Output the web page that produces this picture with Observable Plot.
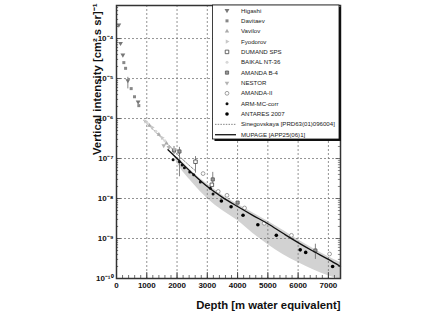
<!DOCTYPE html>
<html><head><meta charset="utf-8">
<script src="https://cdn.jsdelivr.net/npm/d3@7"></script>
<script src="https://cdn.jsdelivr.net/npm/@observablehq/plot@0.6"></script>
<style>html,body{margin:0;padding:0;background:#fff;}</style>
</head><body><div id="chart"></div>
<script>
// ---- data (depth in m.w.e., vertical intensity in cm^-2 s^-1 sr^-1) ----
const higashiDepth = [77, 133, 210, 375, 715];
const higashiFlux  = [2.2e-4, 7.6e-5, 3.9e-5, 8.9e-6, 2.6e-6];
const davitaevDepth = [242, 300, 485, 595, 737];
const davitaevFlux  = [2.5e-5, 1.8e-5, 5.6e-6, 3.5e-6, 2.1e-6];
const vavilovDepth = [1090, 1400, 1650];
const vavilovFlux  = [6.7e-7, 4.0e-7, 2.4e-7];
const fyodorovDepth = [960, 1180, 1510, 1750];
const fyodorovFlux  = [8.5e-7, 6.0e-7, 3.3e-7, 1.9e-7];
const dumandDepth = [2610, 3150];
const dumandFlux  = [8.3e-8, 2.2e-8];
const baikalDepth = [1020, 1300, 1600];
const baikalFlux  = [7.6e-7, 4.8e-7, 2.8e-7];
const amandaB4Depth = [1900, 2080, 3180, 4000, 6570];
const amandaB4Flux  = [1.6e-7, 1.5e-7, 3.0e-8, 7.9e-9, 5.0e-10];
const nestorDepth = [1560, 1730, 1910];
const nestorFlux  = [2.1e-7, 1.9e-7, 1.7e-7];
const amanda2Depth = [2860, 3360, 3650, 4230, 4880, 5780, 7040];
const amanda2Flux  = [4.2e-8, 1.5e-8, 1.2e-8, 5.8e-9, 2.4e-9, 1.2e-9, 4.1e-10];
const armDepth = [1870, 2080, 2170, 2245, 2420, 2550, 2770, 3100, 3190];
const armFlux  = [9.3e-8, 8.3e-8, 6.9e-8, 5.9e-8, 4.6e-8, 3.9e-8, 2.6e-8, 1.8e-8, 1.3e-8];
const antaresDepth = [3465, 3785, 4180, 4670, 5280, 6070, 6250, 7140];
const antaresFlux  = [8.7e-9, 6.2e-9, 3.8e-9, 2.2e-9, 1.2e-9, 5.2e-10, 4.5e-10, 2.0e-10];

const errDepth = [375, 1900, 2080, 2080, 2610, 3180, 6570];
const errHigh  = [1.07e-5, 2.0e-7, 1.9e-7, 1.6e-7, 1.12e-7, 4.5e-8, 7.2e-10];
const errLow   = [5.5e-6, 1.26e-7, 1.2e-7, 3.5e-8, 4.3e-8, 2.2e-8, 3.0e-10];

const sineDepth = [900, 1200, 1500, 1800, 2000, 2300, 2600];
const sineFlux  = [8.9e-7, 5.4e-7, 3.2e-7, 1.9e-7, 1.3e-7, 7.9e-8, 5.0e-8];
const mupageDepth = [1700, 2000, 2500, 3000, 3500, 4000, 4500, 5000, 5500, 6000, 6500, 7000, 7400];
const mupageFlux  = [1.66e-7, 1.0e-7, 4.3e-8, 2.0e-8, 1.07e-8, 6.3e-9, 3.8e-9, 2.34e-9, 1.35e-9, 7.9e-10, 4.8e-10, 3.0e-10, 2.0e-10];
const bandDepth = [1900, 2000, 2500, 3000, 3500, 4000, 4500, 5000, 5500, 6000, 6500, 7000, 7400];
const bandHigh  = [1.2e-7, 1.07e-7, 4.7e-8, 2.3e-8, 1.2e-8, 7.2e-9, 4.4e-9, 2.7e-9, 1.6e-9, 9.3e-10, 5.6e-10, 3.5e-10, 2.5e-10];
const bandLow   = [1.12e-7, 7.9e-8, 2.5e-8, 1.0e-8, 5.0e-9, 2.8e-9, 1.35e-9, 7.1e-10, 4.0e-10, 2.5e-10, 1.66e-10, 1.17e-10, 9.5e-11];

const xTickValues = [0, 1000, 2000, 3000, 4000, 5000, 6000, 7000];
const yTickValues = [1e-10, 1e-9, 1e-8, 1e-7, 1e-6, 1e-5, 1e-4];
const legendNames = ["Higashi", "Davitaev", "Vavilov", "Fyodorov", "DUMAND SPS", "BAIKAL NT-36",
  "AMANDA B-4", "NESTOR", "AMANDA-II", "ARM-MC-corr", "ANTARES 2007",
  "Sinegovskaya [PRD63(01)096004]", "MUPAGE [APP25(06)1]"];

// ---- styles ----
const styles = [
  {sym: "triangle", rot: 180, fill: "#777", stroke: "none", r: 1.8},
  {sym: "square", rot: 0, fill: "#888", stroke: "none", r: 1.7},
  {sym: "triangle", rot: 0, fill: "#aaa", stroke: "none", r: 1.6},
  {sym: "triangle", rot: 90, fill: "#c8c8c8", stroke: "none", r: 1.6},
  {sym: "square", rot: 0, fill: "white", stroke: "#444", r: 2.0},
  {sym: "circle", rot: 0, fill: "#d8d8d8", stroke: "none", r: 1.5},
  {sym: "square", rot: 0, fill: "#999", stroke: "#555", r: 1.8},
  {sym: "triangle", rot: 180, fill: "#b4b4b4", stroke: "none", r: 1.7},
  {sym: "circle", rot: 0, fill: "white", stroke: "#888", r: 1.9},
  {sym: "circle", rot: 0, fill: "#111", stroke: "none", r: 1.5},
  {sym: "circle", rot: 0, fill: "#000", stroke: "none", r: 1.8}
];
const series = [
  [higashiDepth, higashiFlux], [davitaevDepth, davitaevFlux], [vavilovDepth, vavilovFlux],
  [fyodorovDepth, fyodorovFlux], [dumandDepth, dumandFlux], [baikalDepth, baikalFlux],
  [amandaB4Depth, amandaB4Flux], [nestorDepth, nestorFlux], [amanda2Depth, amanda2Flux],
  [armDepth, armFlux], [antaresDepth, antaresFlux]
];

const supMap = {"-": "⁻", "0": "⁰", "1": "¹", "2": "²", "3": "³", "4": "⁴", "5": "⁵", "6": "⁶", "7": "⁷", "8": "⁸", "9": "⁹"};
const fmtPow = d => "10" + String(Math.round(Math.log10(d))).split("").map(c => supMap[c]).join("");

const yMinor = [];
for (let e = -10; e <= -4; e++) for (let m = 2; m <= 9; m++) { const v = m * Math.pow(10, e); if (v < 6.7e-4) yMinor.push(v); }
const xMinor = d3.range(0, 7401, 200);

const band = bandDepth.map((d, i) => ({x: d, lo: bandLow[i], hi: bandHigh[i]}));
const errs = errDepth.map((d, i) => ({x: d, lo: errLow[i], hi: errHigh[i]}));

const XMAX = 7400, YMIN = 1e-10;
const tk = (px) => Math.pow(10, px / 40); // tick length helper on log axis (40px per decade)

const marks = [
  Plot.areaY(band, {x: "x", y1: "lo", y2: "hi", fill: "#d2d2d2", curve: "monotone-x", clip: true}),
  Plot.ruleY(yTickValues.slice(1), {stroke: "#777", strokeDasharray: "2,2", strokeWidth: 0.8}),
  Plot.ruleX(xTickValues.slice(1), {stroke: "#777", strokeDasharray: "2,2", strokeWidth: 0.8}),
  // inward ticks
  Plot.ruleY(yMinor, {x1: 0, x2: 70, stroke: "#333", strokeWidth: 0.7}),
  Plot.ruleY(yTickValues, {x1: 0, x2: 150, stroke: "#333", strokeWidth: 0.8}),
  Plot.ruleY(yMinor, {x1: XMAX - 70, x2: XMAX, stroke: "#555", strokeWidth: 0.7}),
  Plot.ruleY(yTickValues, {x1: XMAX - 150, x2: XMAX, stroke: "#555", strokeWidth: 0.8}),
  Plot.ruleX(xMinor, {y1: YMIN, y2: YMIN * tk(3), stroke: "#333", strokeWidth: 0.7}),
  Plot.ruleX(xTickValues, {y1: YMIN, y2: YMIN * tk(6), stroke: "#333", strokeWidth: 0.8}),
  Plot.line(sineDepth.map((d, i) => ({x: d, y: sineFlux[i]})), {x: "x", y: "y", stroke: "#888", strokeWidth: 1, strokeDasharray: "2,1.5", curve: "monotone-x"}),
  Plot.ruleX(errs, {x: "x", y1: "lo", y2: "hi", stroke: "#666", strokeWidth: 0.8}),
  ...series.map(([xs, ys], k) => Plot.dot(xs.map((d, i) => ({x: d, y: ys[i]})), {
    x: "x", y: "y", symbol: styles[k].sym, rotate: styles[k].rot, r: styles[k].r,
    fill: styles[k].fill, stroke: styles[k].stroke, strokeWidth: 0.8
  })),
  Plot.line(mupageDepth.map((d, i) => ({x: d, y: mupageFlux[i]})), {x: "x", y: "y", stroke: "#111", strokeWidth: 1.3, curve: "monotone-x"}),
  Plot.frame({stroke: "#333", strokeWidth: 1.5}),
  Plot.axisY(yTickValues, {tickSize: 0, tickPadding: 3, tickFormat: fmtPow, fontSize: 8, fontWeight: "bold", label: null}),
  Plot.axisX(xTickValues, {tickSize: 0, tickPadding: 4, tickFormat: d => String(d), fontSize: 8, fontWeight: "bold", label: null}),
  Plot.text(["Depth [m water equivalent]"], {frameAnchor: "bottom-right", textAnchor: "end", dy: 30, fontSize: 11.3, fontWeight: "bold", fill: "#111"}),
  Plot.text(["Vertical intensity [cm² s sr]⁻¹"], {frameAnchor: "top-left", textAnchor: "end", rotate: -90, dx: -24, dy: -2, fontSize: 11.3, fontWeight: "bold", fill: "#111"})
];

const chart = Plot.plot({
  width: 429, height: 322,
  marginLeft: 116, marginRight: 89, marginTop: 5, marginBottom: 44,
  style: {fontFamily: "'Liberation Sans', Arial, sans-serif", background: "#fff", color: "#111"},
  x: {domain: [0, XMAX]},
  y: {type: "log", domain: [YMIN, 6.7e-4]},
  marks
});
document.getElementById("chart").appendChild(chart);

// ---- in-frame legend ----
const svg = d3.select(chart);
const lx = 212.5, ly = 5, lw = 126.5, lh = 134;
const lg = svg.append("g").attr("font-family", "'Liberation Sans', Arial, sans-serif").attr("text-anchor", "start");
lg.append("rect").attr("x", lx + 2).attr("y", ly + 2).attr("width", lw).attr("height", lh).attr("fill", "#111");
lg.append("rect").attr("x", lx).attr("y", ly).attr("width", lw).attr("height", lh).attr("fill", "#fff").attr("stroke", "#111").attr("stroke-width", 0.8);
const symType = {circle: d3.symbolCircle, square: d3.symbolSquare, triangle: d3.symbolTriangle};
legendNames.forEach((name, i) => {
  const y = 10.5 + i * 10.35;
  if (i < styles.length) {
    const s = styles[i];
    lg.append("path")
      .attr("d", d3.symbol(symType[s.sym], Math.PI * s.r * s.r)())
      .attr("transform", `translate(227,${y}) rotate(${s.rot})`)
      .attr("fill", s.fill).attr("stroke", s.stroke).attr("stroke-width", 0.8);
  } else if (i === styles.length) {
    lg.append("line").attr("x1", 215).attr("x2", 236).attr("y1", y).attr("y2", y)
      .attr("stroke", "#777").attr("stroke-width", 0.9).attr("stroke-dasharray", "1.5,1.2");
  } else {
    lg.append("line").attr("x1", 215).attr("x2", 236).attr("y1", y).attr("y2", y)
      .attr("stroke", "#222").attr("stroke-width", 1.4);
  }
  lg.append("text").attr("x", 241).attr("y", y).attr("dy", "0.35em").attr("text-anchor", "start")
    .attr("font-size", 6.1).attr("fill", "#222").text(name);
});
</script>
</body></html>
